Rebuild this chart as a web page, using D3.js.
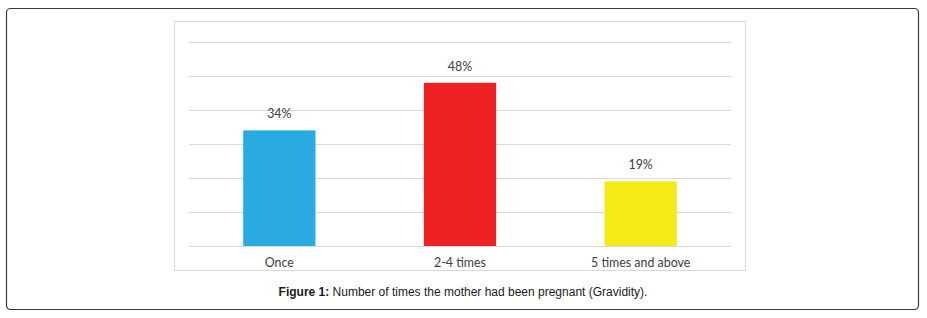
<!DOCTYPE html>
<html><head><meta charset="utf-8">
<script src="https://cdn.jsdelivr.net/npm/d3@7"></script>
<style>body{margin:0;background:#fff}svg{display:block}</style>
</head><body>
<svg id="c" width="927" height="318"></svg>
<script>
const categories = ["Once", "2-4 times", "5 times and above"];
const values = [34, 48, 19];
const valueLabels = ["34%", "48%", "19%"];
const colors = ["#29abe2", "#ed2024", "#f5e916"];
const yTicks = [0, 10, 20, 30, 40, 50, 60];

const svg = d3.select("#c");
// outer frame
svg.append("rect").attr("x", 6.5).attr("y", 8.5).attr("width", 912).attr("height", 301)
  .attr("rx", 4).attr("fill", "none").attr("stroke", "#3a3a3a").attr("stroke-width", 1.2);
// chart area frame
svg.append("rect").attr("x", 174.5).attr("y", 21.5).attr("width", 571).attr("height", 249)
  .attr("fill", "#fff").attr("stroke", "#d9d9d9").attr("stroke-width", 1);

const x = d3.scaleBand().domain(categories).range([189, 731]).paddingInner(0.6).paddingOuter(0.3);
const y = d3.scaleLinear().domain([0, 60]).range([246, 42]);

svg.append("g").selectAll("line").data(yTicks).join("line")
  .attr("x1", 189).attr("x2", 731)
  .attr("y1", d => Math.round(y(d)) + 0.5).attr("y2", d => Math.round(y(d)) + 0.5)
  .attr("stroke", "#d9d9d9").attr("stroke-width", 1);

svg.append("g").selectAll("rect").data(values).join("rect")
  .attr("x", (d, i) => x(categories[i]))
  .attr("width", x.bandwidth())
  .attr("y", d => y(d))
  .attr("height", d => y(0) - y(d))
  .attr("fill", (d, i) => colors[i]);

svg.append("g").selectAll("text").data(values).join("text")
  .attr("x", (d, i) => x(categories[i]) + x.bandwidth() / 2)
  .attr("y", d => y(d) - 12)
  .attr("text-anchor", "middle")
  .attr("font-family", "Lato, 'Open Sans', sans-serif").attr("font-size", 12.4)
  .attr("fill", "#404040")
  .text((d, i) => valueLabels[i]);

const xAxis = d3.axisBottom(x).tickSize(0).tickPadding(0);
const gx = svg.append("g").attr("transform", "translate(0,246)").call(xAxis);
gx.select(".domain").remove();
gx.selectAll("text").attr("dy", null).attr("y", 21)
  .attr("font-family", "Lato, 'Open Sans', sans-serif").attr("font-size", 12.4)
  .attr("fill", "#404040");

const cap = svg.append("text").attr("x", 463).attr("y", 295.5).attr("text-anchor", "middle")
  .attr("font-family", "'Liberation Sans', Arial, sans-serif").attr("font-size", 12).attr("fill", "#1a1a1a");
cap.append("tspan").attr("font-weight", "bold").text("Figure 1:");
cap.append("tspan").text(" Number of times the mother had been pregnant (Gravidity).");
</script>
</body></html>
